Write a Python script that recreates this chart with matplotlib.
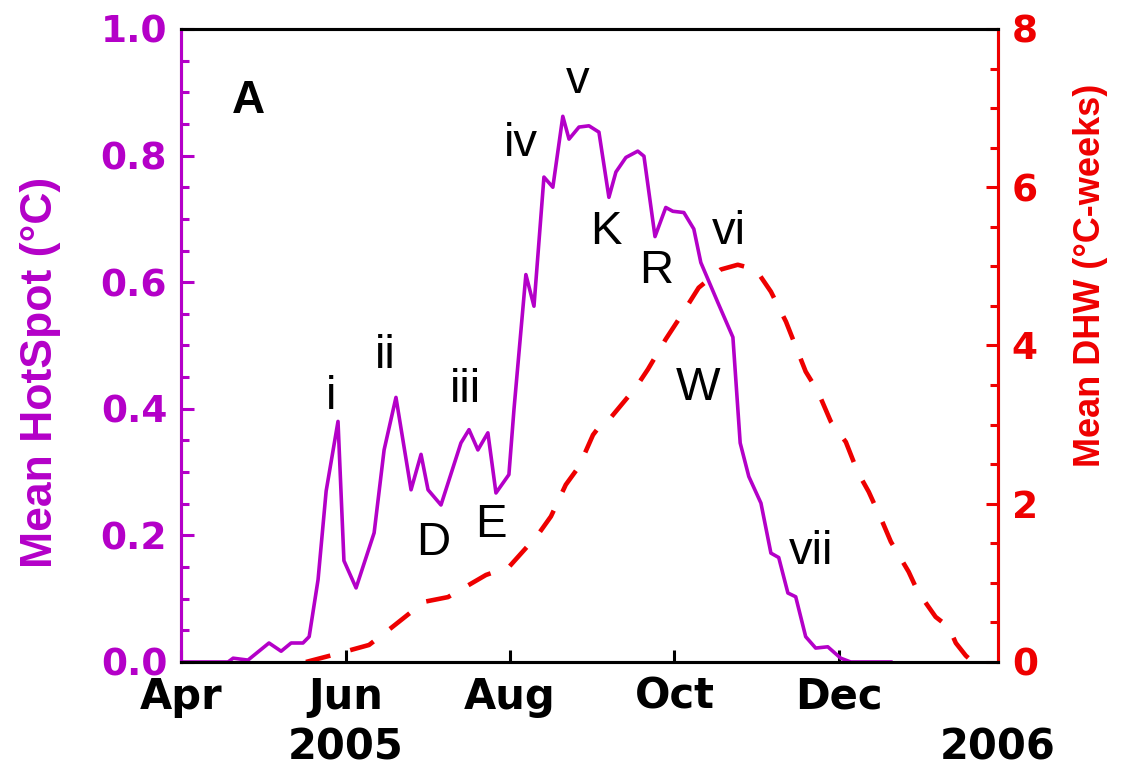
import numpy as np
import pandas as pd
import matplotlib
matplotlib.use('Agg')
import matplotlib.pyplot as plt
import matplotlib.dates as mdates
from matplotlib.ticker import MultipleLocator

# days since 1 Apr 2005
hs_day = [0, 17.4, 19.3, 24.8, 32.6, 37.1, 40.8, 45.2, 47.5, 50.8, 53.8, 58.2, 60.4,
          64.9, 71.6, 75.3, 79.7, 85.3, 89.0, 91.6, 96.4, 103.8, 106.8, 110.1, 113.8,
          116.8, 121.6, 123.5, 127.9, 130.9, 134.6, 137.9, 141.6, 143.9, 147.6, 151.3,
          155.0, 158.7, 161.3, 165.0, 169.4, 171.7, 175.8, 179.8, 182.4, 186.5, 190.2,
          192.8, 199.1, 204.7, 207.4, 210.6, 215.1, 218.8, 221.7, 225.1, 228.0, 231.7,
          235.4, 239.9, 244.7, 248.4, 263.3]
hotspot = [0, 0, 0.006, 0.003, 0.03, 0.017, 0.03, 0.03, 0.04, 0.13, 0.27, 0.38, 0.16,
           0.117, 0.204, 0.335, 0.418, 0.272, 0.328, 0.272, 0.248, 0.346, 0.367, 0.335, 0.362,
           0.267, 0.296, 0.40, 0.612, 0.562, 0.766, 0.75, 0.862, 0.826, 0.845, 0.847,
           0.837, 0.734, 0.774, 0.797, 0.807, 0.799, 0.672, 0.718, 0.712, 0.71, 0.684,
           0.631, 0.568, 0.513, 0.346, 0.293, 0.251, 0.172, 0.165, 0.109, 0.103, 0.04,
           0.022, 0.024, 0.006, 0, 0]

dhw_day = [46.3, 56.4, 69.7, 77.9, 90.1, 99.0, 113.1, 121.6, 132.4, 137.2, 142.7, 147.6,
           152.8, 155.7, 158.7, 168.7, 173.2, 179.8, 184.6, 192.0, 200.2, 206.5, 213.2,
           218.8, 224.4, 227.3, 231.7, 236.2, 241.0, 246.6, 251.0, 255.1, 260.3, 263.3,
           269.9, 273.3, 279.9, 284.8, 287.4, 291.1, 293.7]
dhw = [0, 0.09, 0.215, 0.43, 0.76, 0.82, 1.1, 1.2, 1.61, 1.84, 2.24, 2.47,
       2.87, 3.0, 3.06, 3.47, 3.70, 4.08, 4.33, 4.73, 4.96, 5.02, 4.96,
       4.68, 4.3, 4.05, 3.67, 3.42, 3.04, 2.78, 2.4, 2.15, 1.76, 1.52,
       1.14, 0.89, 0.57, 0.44, 0.24, 0.08, 0]

labels = ['i', 'ii', 'iii', 'iv', 'v', 'vi', 'vii', 'D', 'E', 'K', 'R', 'W']
label_day = [55.6, 75.6, 105.3, 126.0, 147.2, 203.2, 233.6, 93.4, 114.9, 157.6, 176.2, 191.8]
label_val = [0.419, 0.484, 0.43, 0.818, 0.918, 0.68, 0.173, 0.188, 0.217, 0.68, 0.617, 0.433]

purple = '#B400C8'
red = '#EE0000'
start = pd.Timestamp('2005-04-01')

def to_date(days):
    return start + pd.to_timedelta(np.asarray(days), unit='D')

fig = plt.figure(figsize=(11.25, 7.72), dpi=100)
ax1 = fig.add_axes([0.161, 0.1425, 0.726, 0.82])
ax2 = ax1.twinx()

ax1.plot(to_date(hs_day), hotspot, color=purple, lw=2.6, zorder=3)
ax2.plot(to_date(dhw_day), dhw, color=red, lw=3.3, dashes=(5.5, 4.5))

ax1.set_xlim(start, to_date([303])[0])
ax1.set_ylim(0, 1)
ax2.set_ylim(0, 8)

yfont = dict(family='DejaVu Sans', weight='bold', size=27)
xfont = dict(family='DejaVu Sans', weight='bold', size=30)

ax1.xaxis.set_major_locator(mdates.MonthLocator(bymonth=[4, 6, 8, 10, 12]))
ax1.xaxis.set_major_formatter(mdates.DateFormatter('%b'))
ax1.yaxis.set_major_locator(MultipleLocator(0.2))
ax1.yaxis.set_minor_locator(MultipleLocator(0.05))
ax1.yaxis.set_major_formatter(lambda v, p: f'{v:.1f}')
ax2.yaxis.set_major_locator(MultipleLocator(2))
ax2.yaxis.set_minor_locator(MultipleLocator(0.5))

ax1.tick_params(axis='x', direction='in', length=9, width=2.2, pad=10, colors='black')
ax1.tick_params(axis='y', which='major', direction='in', length=9, width=2.2, pad=10,
                colors=purple)
ax1.tick_params(axis='y', which='minor', direction='in', length=6, width=2.2, colors=purple)
ax2.tick_params(axis='y', which='major', direction='in', length=9, width=2.2, pad=10,
                colors=red)
ax2.tick_params(axis='y', which='minor', direction='in', length=6, width=2.2, colors=red)
for lab in ax1.get_yticklabels() + ax2.get_yticklabels():
    lab.set_fontproperties(yfont)
for lab in ax1.get_xticklabels():
    lab.set_fontproperties(xfont)

for ax in (ax1, ax2):
    for s in ax.spines.values():
        s.set_linewidth(2.2)
ax2.spines['left'].set_color(purple)
ax2.spines['right'].set_color(red)
ax2.spines['top'].set_color('black')
ax2.spines['bottom'].set_color('black')

for t, d, v in zip(labels, label_day, label_val):
    ax1.text(to_date([d])[0], v, t, ha='center', va='center',
             family='Liberation Sans', size=34, zorder=4)
ax1.text(0.082, 0.886, 'A', transform=ax1.transAxes, ha='center', va='center',
         family='Liberation Sans', weight='bold', size=33)

ax1.text(to_date([61])[0], -0.135, '2005', transform=ax1.get_xaxis_transform(),
         ha='center', va='center', **xfont)
ax1.text(to_date([303])[0], -0.135, '2006', transform=ax1.get_xaxis_transform(),
         ha='center', va='center', **xfont)

fig.text(41 / 1125, 1 - 372 / 772, 'Mean HotSpot (°C)', rotation=90, ha='center',
         va='center', color=purple, family='Liberation Sans', weight='bold', size=32)
fig.text(1090 / 1125, 1 - 275 / 772, 'Mean DHW (°C-weeks)', rotation=90, ha='center',
         va='center', color=red, family='Liberation Sans', weight='bold', size=26)

fig.savefig('out.png', dpi=100)
